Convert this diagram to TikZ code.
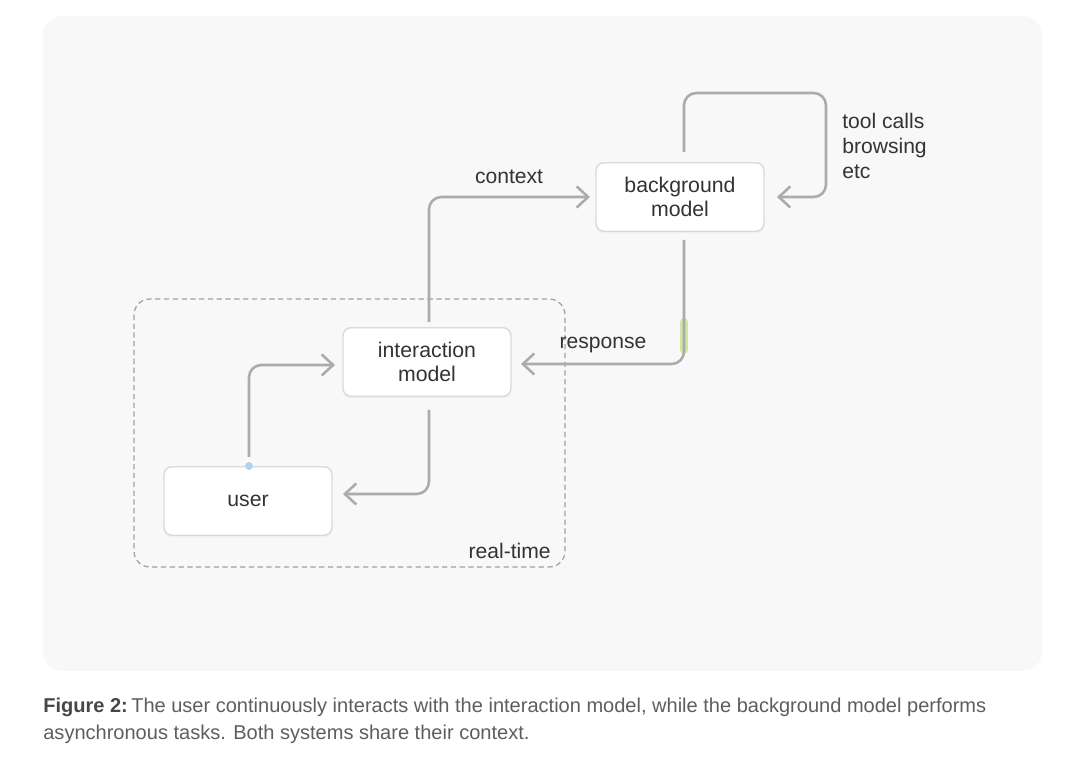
\documentclass[tikz,border=0pt]{standalone}
\usepackage{fontspec}
\setmainfont{Liberation Sans}
\usetikzlibrary{arrows.meta,shadows,positioning}
\definecolor{panel}{HTML}{F8F8F8}
\definecolor{linec}{HTML}{ABABAB}
\definecolor{txt}{HTML}{333333}
\definecolor{capt}{HTML}{5E5E5E}
\definecolor{boxline}{HTML}{DADADA}
\definecolor{dashc}{HTML}{A0A0A0}
\definecolor{hlgreen}{HTML}{CFE8A4}
\definecolor{hlblue}{HTML}{A9D3F2}
\tikzset{
  modelbox/.style={draw=boxline, line width=0.8pt, fill=white, rounded corners=4.5pt,
    minimum width=3.36cm, minimum height=1.37cm, align=center, text=txt,
    font=\fontsize{12.1}{13.2}\selectfont,
    drop shadow={opacity=0.07, shadow xshift=0pt, shadow yshift=-1.2pt}},
  conn/.style={draw=linec, line width=1.45pt, rounded corners=7pt,
    -{Straight Barb[length=6.5pt, width=12pt, line width=1.45pt]}},
  lbl/.style={text=txt, font=\fontsize{12}{14.2}\selectfont, inner sep=0pt}
}
\begin{document}
\begin{tikzpicture}[x=0.02cm, y=-0.02cm]
\useasboundingbox (0,0) rectangle (1080,783);
\fill[white] (0,0) rectangle (1080,783);
% panel
\fill[panel, rounded corners=11pt] (43,16) rectangle (1042,671);
% dashed real-time region
\draw[dashc, dashed, line width=0.7pt, dash pattern=on 3pt off 2pt, rounded corners=9pt] (134,299) rectangle (565,567);
\node[lbl, anchor=east] (rt) at (551,551) {real-time};
% nodes
\node[modelbox] (bg) at (680,197) {background\\model};
\node[modelbox] (im) at (427,362) {interaction\\model};
\node[modelbox] (user) at (248,501) {user};
% coordinates
\coordinate (ctxs) at (429,322);
\coordinate (ctxc) at (429,197);
\coordinate (ctxe) at (590,197);
\coordinate (loops) at (684,152);
\coordinate (loopa) at (684,93);
\coordinate (loopb) at (826,93);
\coordinate (loopc) at (826,197);
\coordinate (loope) at (777,197);
\coordinate (resps) at (684,240);
\coordinate (respc) at (684,364);
\coordinate (respe) at (521,364);
\coordinate (ups) at (249,457);
\coordinate (upc) at (249,365);
\coordinate (upe) at (335,365);
\coordinate (dns) at (429,410);
\coordinate (dnc) at (429,494);
\coordinate (dne) at (343,494);
% highlight on response line
\draw[hlgreen, line width=4.5pt, line cap=round] (684,322) -- (684,350);
% connectors
\draw[conn] (ctxs) -- (ctxc) -- (ctxe);
\draw[conn] (loops) -- (loopa) -- (loopb) -- (loopc) -- (loope);
\draw[conn] (resps) -- (respc) -- (respe);
\draw[conn] (ups) -- (upc) -- (upe);
\draw[conn] (dns) -- (dnc) -- (dne);
\fill[hlblue] (249,466) circle (2.2pt);
% labels
\node[lbl] (ctx) at (509,177) {context};
\node[lbl] (resp) at (603,345) {response};
\node[lbl, anchor=north west, align=left] (tools) at (842,113) {tool calls\\browsing\\etc};
% caption
\node[anchor=north west, align=left, inner sep=0pt, text=capt, font=\fontsize{11.4}{15.3}\selectfont] (cap) at (43,698)
  {\frenchspacing\textcolor{txt!90}{\textbf{Figure 2:}}\,The user continuously interacts with the interaction model, while the background model performs\\asynchronous tasks. Both systems share their context.};
\end{tikzpicture}
\end{document}
